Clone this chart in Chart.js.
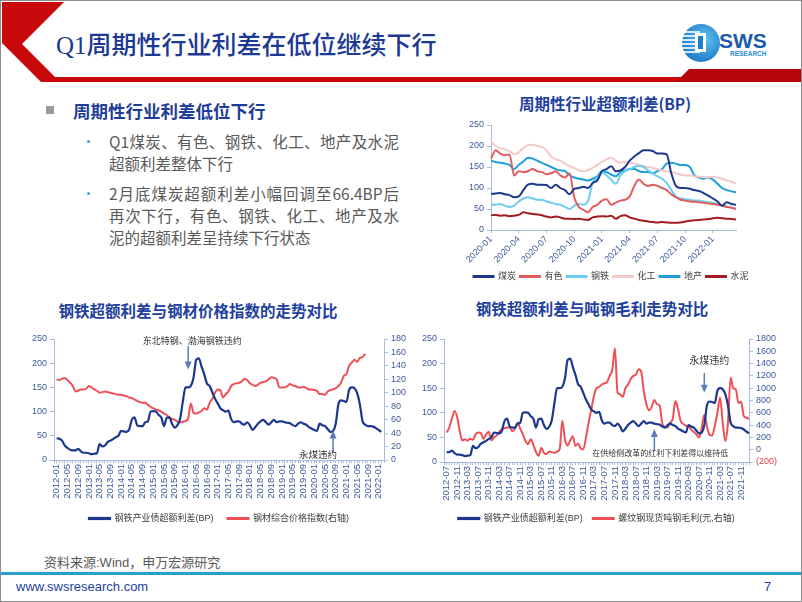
<!DOCTYPE html>
<html>
<head>
<meta charset="utf-8">
<script src="https://cdn.jsdelivr.net/npm/chart.js@4.4.1/dist/chart.umd.min.js"></script>
<style>
  html, body { margin: 0; padding: 0; background: #fff; }
  #slide { position: relative; width: 802px; height: 602px; box-sizing: border-box; border: 1px solid #8c8c8c; overflow: hidden; font-family: 'Noto Sans CJK SC', sans-serif; }
  .abs { position: absolute; white-space: nowrap; }
  .line { position: absolute; left: 108px; width: 290px; font-size: 15.5px; line-height: 22px; color: #595959; text-align: justify; text-align-last: justify; white-space: nowrap; }
  .last { text-align-last: left; }
  .ctitle { position: absolute; font-size: 15.5px; font-weight: bold; color: #213f9d; transform: translateX(-50%); white-space: nowrap; line-height: 20px; }
  canvas { position: absolute; }
</style>
</head>
<body>
<div id="slide">
  <svg class="abs" style="left:0;top:0" width="802" height="90">
    <polygon points="1,1 63,1 21,43 54,76 802,76 802,81 40,81 1,42" fill="#c9080c"/>
    <polygon points="675,81 688,68 802,68 802,81" fill="#b5060b"/>
    <defs>
      <radialGradient id="g" cx="0.6" cy="0.4" r="0.7">
        <stop offset="0" stop-color="#5fc3f0"/>
        <stop offset="1" stop-color="#1673c4"/>
      </radialGradient>
    </defs>
    <circle cx="700" cy="42" r="19" fill="url(#g)"/>
    <g stroke="#fff" stroke-width="1.6">
      <line x1="682" y1="31" x2="699" y2="31"/>
      <line x1="681" y1="35" x2="699" y2="35"/>
      <line x1="681" y1="39" x2="699" y2="39"/>
      <line x1="681" y1="43" x2="699" y2="43"/>
      <line x1="681" y1="47" x2="699" y2="47"/>
      <line x1="682" y1="51" x2="699" y2="51"/>
    </g>
    <rect x="694" y="32" width="11" height="19" fill="#fff"/>
    <rect x="697" y="35" width="5" height="13" fill="#1d7fcc"/>
    <text x="718" y="47" font-family="Liberation Sans, Arial, sans-serif" font-weight="bold" font-size="21" fill="#1c5dab">SWS</text>
    <text x="729" y="55" font-family="Liberation Sans, Arial, sans-serif" font-weight="bold" font-size="6.5" fill="#2a8bd1">RESEARCH</text>
  </svg>

  <div class="abs" style="left:55px;top:29px;font-size:25px;line-height:32px;color:#1c3a94;font-family:'Liberation Serif','Noto Sans CJK SC',serif;font-weight:500">Q1周期性行业利差在低位继续下行</div>

  <div class="abs" style="left:45px;top:105px;width:8px;height:8px;background:#9a9a9a"></div>
  <div class="abs" style="left:72px;top:98px;font-size:17.5px;line-height:24px;font-weight:bold;color:#1f3d99">周期性行业利差低位下行</div>
  <div class="abs" style="left:86px;top:139px;width:3px;height:3px;border-radius:2px;background:#27a9d6"></div>
  <div class="line" style="top:129px">Q1煤炭、有色、钢铁、化工、地产及水泥</div>
  <div class="line last" style="top:151px">超额利差整体下行</div>
  <div class="abs" style="left:86px;top:191px;width:3px;height:3px;border-radius:2px;background:#27a9d6"></div>
  <div class="line" style="top:181px">2月底煤炭超额利差小幅回调至66.4BP后</div>
  <div class="line" style="top:203px">再次下行，有色、钢铁、化工、地产及水</div>
  <div class="line last" style="top:225px">泥的超额利差呈持续下行状态</div>

  <div class="ctitle" style="left:604px;top:92px">周期性行业超额利差(BP)</div>
  <div class="ctitle" style="left:197px;top:299px">钢铁超额利差与钢材价格指数的走势对比</div>
  <div class="ctitle" style="left:591px;top:297px">钢铁超额利差与吨钢毛利走势对比</div>

  <canvas id="sector" width="316" height="178" style="left:452px;top:112px"></canvas>
  <canvas id="steelIdx" width="400" height="210" style="left:8px;top:322px"></canvas>
  <canvas id="steelMargin" width="395" height="210" style="left:405px;top:322px"></canvas>

  <div class="abs" style="left:43px;top:553px;font-size:13px;line-height:18px;color:#595959;font-family:'Liberation Sans','Noto Sans CJK SC',sans-serif">资料来源:Wind，申万宏源研究</div>
  <div class="abs" style="left:0;top:571px;width:802px;height:3px;background:#2b9fc8"></div>
  <div class="abs" style="left:15px;top:577px;font-size:13px;line-height:18px;color:#1f3f99;font-family:'Liberation Sans',sans-serif">www.swsresearch.com</div>
  <div class="abs" style="left:763px;top:577px;font-size:13px;line-height:18px;color:#1f3f99;font-family:'Liberation Sans',sans-serif">7</div>
</div>

<script>
// ---- categories ----
function months(from, to) {
  const out = [];
  let [y, m] = from.split('-').map(Number);
  const [y2, m2] = to.split('-').map(Number);
  while (y < y2 || (y === y2 && m <= m2)) {
    out.push(y + '-' + String(m).padStart(2, '0'));
    m++;
    if (m > 12) { m = 1; y++; }
  }
  return out;
}
function every(list, first, step) {
  const i0 = list.indexOf(first);
  return list.filter((_, i) => i >= i0 && (i - i0) % step === 0);
}

// top right: half-month points 2020-01 .. 2022-03
const sectorMonths = months('2020-01', '2022-03');
const sectorDates = sectorMonths.flatMap(m => [m + '-01', m + '-16']);
const sectorTicks = every(sectorMonths, '2020-01', 3);
const sectorNames = ['煤炭', '有色', '钢铁', '化工', '地产', '水泥'];

const coal = [86,87, 88,85, 83,78, 80,95, 108,110, 108,108, 107,100, 108,100, 95,85, 98,100, 103,100, 112,118,
  140,145, 152,140, 142,150, 165,175, 183,190, 190,188, 182,182, 180,135, 105,100, 100,98, 95,93, 88,82,
  75,68, 58,66, 62,60];
const nonferrous = [170,190, 182,178, 180,130, 140,138, 140,145, 140,138, 133,135, 140,130, 125,135, 78,55, 48,42, 55,60,
  70,73, 60,65, 70,72, 80,105, 120,110, 105,108, 105,100, 95,85, 78,72, 70,68, 67,66, 65,63,
  62,60, 58,55, 53,50];
const steel = [60,60, 62,58, 55,58, 68,75, 78,75, 72,72, 68,65, 62,60, 55,50, 58,62, 60,70, 112,125,
  138,130, 120,110, 130,140, 145,150, 153,150, 142,135, 128,122, 112,95, 80,75, 73,72, 70,70, 68,66,
  65,62, 58,56, 53,50];
const chemical = [210,200, 195,192, 188,180, 185,195, 202,203, 200,198, 190,175, 168,165, 158,152, 148,142, 140,143, 148,155,
  162,168, 172,165, 160,162, 160,158, 155,152, 150,148, 145,142, 140,138, 135,132, 130,130, 128,127, 126,125,
  127,125, 122,118, 115,110];
const realty = [165,162, 160,158, 155,145, 155,163, 172,170, 165,160, 155,150, 145,142, 140,130, 125,122, 120,118, 122,128,
  140,138, 132,128, 138,142, 145,145, 140,138, 138,135, 140,145, 158,160, 158,155, 155,150, 130,125, 122,125,
  120,110, 100,95, 92,90];
const cement = [35,36, 34,35, 33,34, 36,42, 40,38, 37,35, 32,30, 32,30, 27,27, 26,27, 25,24, 30,32,
  33,32, 34,27, 33,35, 30,27, 24,22, 20,19, 18,19, 18,17, 17,18, 20,22, 23,24, 25,26,
  28,29, 28,27, 26,25];

// steel industry bond excess spread, monthly 2012-01 .. 2022-02
const spreadMonths = months('2012-01', '2022-02');
const steelSpread = [
  45, 44, 40, 30, 25, 21, 20, 20, 23, 18, 15, 15,
  14, 12, 13, 14, 33, 28, 30, 37, 40, 43, 47, 50,
  60, 59, 58, 63, 83, 88, 72, 70, 70, 78, 80, 100,
  101, 100, 93, 88, 70, 87, 88, 75, 67, 72, 85, 120,
  150, 150, 153, 170, 207, 210, 193, 177, 158, 153, 140, 127,
  117, 107, 103, 100, 102, 85, 78, 80, 80, 75, 73, 78,
  72, 62, 68, 75, 80, 83, 78, 73, 78, 83, 78, 80,
  80, 78, 77, 76, 72, 70, 75, 78, 75, 73, 68, 65,
  62, 60, 75, 72, 70, 64, 58, 60, 75, 115, 123, 122,
  120, 145, 150, 148, 138, 115, 80, 73, 70, 70, 69, 66,
  62, 58
];
// steel composite price index, monthly 2012-01 .. 2021-08
const steelPrice = [
  120, 119, 121, 122, 119, 115, 110, 102, 103, 105, 105, 106,
  110, 108, 105, 103, 100, 101, 102, 101, 100, 99, 98, 97,
  97, 96, 95, 93, 92, 90, 88, 86, 85, 85, 82, 79,
  77, 75, 74, 72, 69, 67, 63, 61, 60, 57, 56, 57,
  58, 62, 84, 70, 69, 71, 73, 77, 75, 85, 91, 100,
  105, 104, 93, 98, 102, 110, 113, 114, 115, 117, 121, 119,
  114, 112, 110, 112, 115, 116, 117, 120, 123, 122, 120, 108,
  108, 108, 110, 113, 111, 110, 108, 108, 109, 107, 105, 105,
  104, 103, 98, 98, 97, 102, 104, 105, 107, 110, 115, 125,
  128, 140, 145, 149, 146, 152, 153, 158
];
// rebar spot gross margin per ton (yuan), monthly 2012-07 .. 2022-02
const rebarMargin = [
  280, 360, 500, 630, 530, 300, 150, 170, 145, 180, 160, 250,
  280, 270, 175, 250, 290, 150, 200, 230, 290, 330, 350, 360,
  360, 300, 340, 440, 340, 250, 140, 90, 170, 80, -40, -100,
  30, -50, -70, -30, -40, -50, -30, 10, 470, 170, 70, 150,
  220, 60, 100, 20, 8, 200, 440, 650, 870, 1000, 1020, 1060,
  1080, 1100, 1200, 1300, 1650, 930, 900, 860, 1000, 1060, 1150, 1200,
  1220, 1310, 1270, 950, 740, 640, 700, 810, 740, 720, 430, 370,
  360, 440, 500, 790, 660, 470, 420, 390, 380, 330, 290, 250,
  200, 350, 570, 380, 240, 230, 390, 600, 850, 440, 140, 440,
  1170, 1000, 980, 760, 780, 550, 520, 500
];

const idxMonths = months('2011-12', '2022-03');
const idxTicks = every(idxMonths, '2012-01', 4);
const marginMonths = months('2012-06', '2022-02');
const marginTicks = every(marginMonths, '2012-07', 4);

// ---- styles ----
const family = "'Liberation Sans', 'Noto Sans CJK SC', sans-serif";
const tickBlue = '#3d5a98';
const axisLine = '#a9bbdc';
const navy = '#1b388d';
const red = '#ee5055';
const arrowColor = '#5a7db8';

Chart.defaults.font.family = family;
Chart.defaults.animation = false;

const notePlugin = {
  id: 'notes',
  afterDatasetsDraw(chart, args, opts) {
    const items = opts.items || [];
    const ctx = chart.ctx, xs = chart.scales.x, ys = chart.scales.y;
    const labels = chart.data.labels;
    ctx.save();
    items.forEach(n => {
      const x = xs.getPixelForValue(labels.indexOf(n.at));
      const y0 = ys.getPixelForValue(n.from), y1 = ys.getPixelForValue(n.to);
      const dir = y1 > y0 ? 1 : -1;
      ctx.strokeStyle = arrowColor;
      ctx.fillStyle = arrowColor;
      ctx.lineWidth = 1.5;
      ctx.beginPath();
      ctx.moveTo(x, y0);
      ctx.lineTo(x, y1 - dir * 5);
      ctx.stroke();
      ctx.beginPath();
      ctx.moveTo(x - 3.5, y1 - dir * 8);
      ctx.lineTo(x + 3.5, y1 - dir * 8);
      ctx.lineTo(x, y1);
      ctx.closePath();
      ctx.fill();
      ctx.fillStyle = '#333';
      ctx.font = n.size + 'px ' + family;
      ctx.textAlign = n.align;
      ctx.textBaseline = 'middle';
      ctx.fillText(n.text, x + n.dx, ys.getPixelForValue(n.textAt));
    });
    ctx.restore();
  }
};

function line(label, data, color, width, axis) {
  return {
    label, data, borderColor: color, backgroundColor: color, borderWidth: width,
    pointRadius: 0, cubicInterpolationMode: 'monotone', yAxisID: axis || 'y'
  };
}

function yAxis(pos, min, max, step, width, fmt, colorFn) {
  return {
    position: pos, min, max,
    border: { color: axisLine },
    grid: { drawOnChartArea: false, color: axisLine, tickLength: 4 },
    ticks: {
      stepSize: step, autoSkip: false, color: colorFn || tickBlue, font: { size: 9 }, padding: 3,
      callback: fmt || (v => v)
    },
    afterFit: s => { s.width = width; }
  };
}

function xAxis(labels, shown, rot, height, fontSize, onlyShownTicks) {
  return {
    border: { color: axisLine },
    grid: {
      drawOnChartArea: false, tickLength: 3,
      tickColor: c => (!onlyShownTicks || shown(labels[c.index])) ? axisLine : 'rgba(0,0,0,0)'
    },
    ticks: {
      autoSkip: false, minRotation: rot, maxRotation: rot, padding: 1,
      color: tickBlue, font: { size: fontSize },
      callback: (v, i) => shown(labels[i]) ? labels[i].slice(0, 7) : ''
    },
    afterFit: s => { s.height = height; }
  };
}

function legend(fullSize, padding, boxWidth) {
  return {
    position: 'bottom', fullSize,
    labels: { boxWidth: boxWidth || 21, boxHeight: 1, color: '#404040', font: { size: 9 }, padding }
  };
}

// ---- chart 1: sector excess spreads ----
const sectorColors = ['#1b388d', '#e35d5e', '#6ccdf0', '#f5c8c9', '#1e9fdb', '#a01c1f'];
const sectorSeries = [coal, nonferrous, steel, chemical, realty, cement];
new Chart(document.getElementById('sector'), {
  type: 'line',
  data: {
    labels: sectorDates,
    datasets: sectorSeries.map((d, i) => line(sectorNames[i], d, sectorColors[i], 2))
  },
  options: {
    responsive: false,
    layout: { padding: { top: 12, right: 0, left: 0, bottom: 0 } },
    scales: {
      x: xAxis(sectorDates, l => l.endsWith('-01') && sectorTicks.includes(l.slice(0, 7)), 45, 38, 9, true),
      y: yAxis('left', 0, 250, 50, 38),
      // empty right gutter so the legend can be wider than the plot
      gutter: {
        position: 'right', min: 0, max: 1, display: true,
        border: { display: false }, grid: { display: false, drawTicks: false }, ticks: { display: false },
        afterFit: s => { s.width = 33; }
      }
    },
    plugins: { legend: legend(true, 4, 20), tooltip: { enabled: false } }
  }
});

// ---- chart 2: spread vs steel price index ----
new Chart(document.getElementById('steelIdx'), {
  type: 'line',
  data: {
    labels: idxMonths,
    datasets: [
      line('钢铁产业债超额利差(BP)', [null, ...steelSpread], navy, 2.2),
      line('钢材综合价格指数(右轴)', [null, ...steelPrice], red, 2, 'y1')
    ]
  },
  options: {
    responsive: false,
    layout: { padding: { top: 16, right: 0, left: 0, bottom: 0 } },
    scales: {
      x: xAxis(idxMonths, l => idxTicks.includes(l), 90, 40, 9.5, false),
      y: yAxis('left', 0, 250, 50, 45),
      y1: yAxis('right', 0, 180, 20, 25)
    },
    plugins: {
      legend: legend(false, 14),
      tooltip: { enabled: false },
      notes: { items: [
        { at: '2016-02', from: 235, to: 187, text: '东北特钢、渤海钢铁违约', textAt: 245, dx: 4, align: 'center', size: 9 },
        { at: '2020-08', from: 16, to: 61, text: '永煤违约', textAt: 10, dx: 4, align: 'right', size: 9.5 }
      ] }
    }
  },
  plugins: [notePlugin]
});

// ---- chart 3: spread vs rebar margin ----
new Chart(document.getElementById('steelMargin'), {
  type: 'line',
  data: {
    labels: marginMonths,
    datasets: [
      line('钢铁产业债超额利差(BP)', [null, ...steelSpread.slice(6)], navy, 2.2),
      line('螺纹钢现货吨钢毛利(元,右轴)', [null, ...rebarMargin], red, 2, 'y1')
    ]
  },
  options: {
    responsive: false,
    layout: { padding: { top: 16, right: 0, left: 0, bottom: 0 } },
    scales: {
      x: xAxis(marginMonths, l => marginTicks.includes(l), 90, 42, 9.5, false),
      y: yAxis('left', 0, 250, 50, 38),
      y1: yAxis('right', -200, 1800, 200, 52,
        v => v < 0 ? '(' + (-v) + ')' : v,
        c => c.tick && c.tick.value < 0 ? '#e8414a' : tickBlue)
    },
    plugins: {
      legend: legend(false, 10),
      tooltip: { enabled: false },
      notes: { items: [
        { at: '2020-09', from: 181, to: 141, text: '永煤违约', textAt: 204, dx: 5, align: 'center', size: 10 },
        { at: '2019-02', from: 22, to: 67, text: '在供给侧改革的红利下利差得以维持低', textAt: 16, dx: 6, align: 'center', size: 8 }
      ] }
    }
  },
  plugins: [notePlugin]
});
</script>
</body>
</html>
